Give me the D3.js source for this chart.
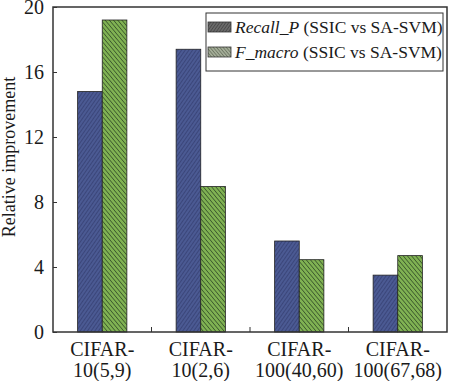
<!DOCTYPE html>
<html><head><meta charset="utf-8">
<script src="https://cdn.jsdelivr.net/npm/d3@7"></script>
<style>body{margin:0;background:#fff}svg{display:block}</style>
</head><body><svg id="c" width="450" height="381"></svg>
<script>
const categories = [["CIFAR-","10(5,9)"],["CIFAR-","10(2,6)"],["CIFAR-","100(40,60)"],["CIFAR-","100(67,68)"]];
const recallP = [14.8, 17.4, 5.6, 3.5];
const fMacro = [19.2, 8.95, 4.45, 4.7];
const seriesNames = ["Recall_P", "F_macro"];
const yTicks = [0, 4, 8, 12, 16, 20];

const FONT = "'Liberation Serif', 'Times New Roman', serif";
const svg = d3.select("#c");
const m = {left:53, top:7, right:447, bottom:332};
const defs = svg.append("defs");
function hatch(id, bg, fg, angle, gap, w){
  const p = defs.append("pattern").attr("id", id).attr("patternUnits","userSpaceOnUse")
    .attr("width", gap).attr("height", gap).attr("patternTransform", `rotate(${angle})`);
  p.append("rect").attr("width", gap).attr("height", gap).attr("fill", bg);
  p.append("line").attr("x1",0).attr("y1",0).attr("x2",0).attr("y2",gap).attr("stroke", fg).attr("stroke-width", w);
}
hatch("pb", "#4b5a93", "#2b3262", 35, 3, 1);
hatch("pg", "#80b253", "#2c4424", -40, 3.2, 1.3);
hatch("lb", "#6a6a6a", "#333", 35, 2.5, 1);
hatch("lg", "#a4ad98", "#4a5240", -40, 2.5, 1);

const x = d3.scaleBand().domain(d3.range(categories.length)).range([m.left, m.right]).paddingInner(0.5).paddingOuter(0.25);
const xs = d3.scaleBand().domain([0,1]).range([0, x.bandwidth()]);
const y = d3.scaleLinear().domain([0,20]).range([m.bottom, m.top]);

const series = [recallP, fMacro];
const fills = ["url(#pb)", "url(#pg)"];
series.forEach((vals, si) => {
  svg.append("g").selectAll("rect").data(vals).join("rect")
    .attr("x", (d,i) => x(i) + xs(si))
    .attr("y", d => y(d))
    .attr("width", xs.bandwidth())
    .attr("height", d => y(0) - y(d))
    .attr("fill", fills[si]).attr("stroke", "#222").attr("stroke-width", 0.8);
});

// frame
svg.append("rect").attr("x", m.left).attr("y", m.top).attr("width", m.right-m.left).attr("height", m.bottom-m.top)
  .attr("fill","none").attr("stroke","#333").attr("stroke-width",1.5);

// y axis
const ya = svg.append("g").attr("transform", `translate(${m.left},0)`)
  .call(d3.axisLeft(y).tickValues(yTicks).tickSize(-4).tickPadding(9));
ya.select(".domain").remove();
ya.selectAll("line").attr("stroke","#333");
ya.selectAll("text").style("font-size", "20px").style("font-family", FONT).attr("fill","#1a1a1a").attr("dy","0.34em");

// x separator ticks
const step = x.step();
svg.append("g").selectAll("line").data(d3.range(1, categories.length)).join("line")
  .attr("x1", i => x(i) - (step - x.bandwidth())/2).attr("x2", i => x(i) - (step - x.bandwidth())/2)
  .attr("y1", m.bottom).attr("y2", m.bottom - 5).attr("stroke","#333").attr("stroke-width",1);

// x labels
const xl = svg.append("g").selectAll("text").data(categories).join("text")
  .attr("x", (d,i) => x(i) + x.bandwidth()/2).attr("text-anchor","middle")
  .style("font-size", "20px").style("font-family", FONT).attr("fill","#1a1a1a");
xl.append("tspan").attr("x", (d,i) => x(i) + x.bandwidth()/2).attr("y", 356).text(d => d[0]);
xl.append("tspan").attr("x", (d,i) => x(i) + x.bandwidth()/2).attr("y", 377).text(d => d[1]);

// y label
svg.append("text").attr("transform", "translate(15,157) rotate(-90)").attr("text-anchor","middle")
  .style("font-size", "18px").style("font-family", FONT).attr("fill","#1a1a1a").text("Relative improvement");

// legend
const lg = svg.append("g");
lg.append("rect").attr("x", 206).attr("y", 13).attr("width", 237).attr("height", 58)
  .attr("fill","#fff").attr("stroke","#333").attr("stroke-width",1);
const lfills = ["url(#lb)", "url(#lg)"];
seriesNames.forEach((name, i) => {
  const cy = 27 + i*25;
  lg.append("rect").attr("x", 208).attr("y", cy - 5).attr("width", 23).attr("height", 10)
    .attr("fill", lfills[i]).attr("stroke","#333").attr("stroke-width",0.8);
  const t = lg.append("text").attr("x", 235).attr("y", cy + 6)
    .style("font-size", "17.5px").style("font-family", FONT).attr("fill","#1a1a1a");
  t.append("tspan").style("font-style","italic").text(name);
  t.append("tspan").text(" (SSIC vs SA-SVM)");
});
</script></body></html>
